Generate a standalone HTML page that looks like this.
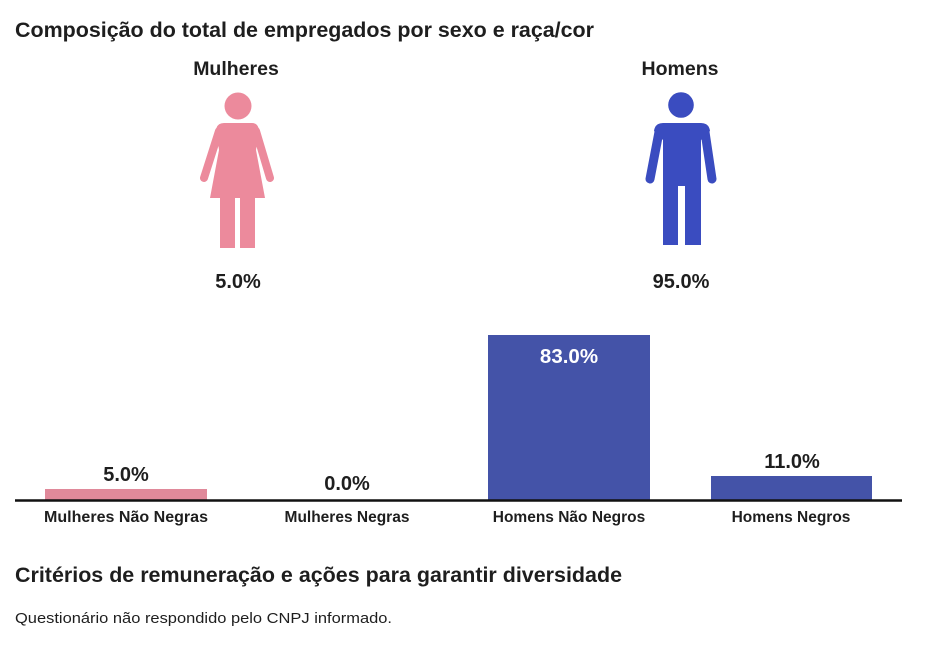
<!DOCTYPE html>
<html>
<head>
<meta charset="utf-8">
<style>
html,body{margin:0;padding:0;background:#fff;}
svg{display:block;}
text{font-family:"Liberation Sans",Arial,sans-serif;fill:#1e1e1e;}
.b{font-weight:bold;}
</style>
</head>
<body>
<svg width="950" height="651" viewBox="0 0 950 651" xmlns="http://www.w3.org/2000/svg">
  <rect width="950" height="651" fill="#fff"/>
  <!-- Title -->
  <text class="b" x="15" y="37" font-size="21" textLength="579" lengthAdjust="spacingAndGlyphs">Composição do total de empregados por sexo e raça/cor</text>

  <!-- Mulheres -->
  <text class="b" x="236" y="75" font-size="19.5" text-anchor="middle">Mulheres</text>
  <g fill="#EC8A9C">
    <circle cx="238" cy="106" r="13.5"/>
    <path d="M224,123 L252,123 Q258,123 259,130 L256,150 L265,198 L210,198 L219,150 L216,130 Q217,123 224,123 Z"/>
    <line x1="219" y1="131" x2="204" y2="178" stroke="#EC8A9C" stroke-width="8" stroke-linecap="round"/>
    <line x1="256" y1="131" x2="270" y2="178" stroke="#EC8A9C" stroke-width="8" stroke-linecap="round"/>
    <rect x="220" y="196" width="15" height="52"/>
    <rect x="240" y="196" width="15" height="52"/>
  </g>
  <text class="b" x="238" y="288" font-size="20" text-anchor="middle">5.0%</text>

  <!-- Homens -->
  <text class="b" x="680" y="75" font-size="19.5" text-anchor="middle">Homens</text>
  <g fill="#3A4CC0">
    <circle cx="681" cy="105" r="12.8"/>
    <path d="M663,123 L701,123 Q709,123 710,131 L701,140 L701,186 L663,186 L663,140 L654,131 Q655,123 663,123 Z"/>
    <line x1="659" y1="132" x2="650" y2="179" stroke="#3A4CC0" stroke-width="9" stroke-linecap="round"/>
    <line x1="705" y1="132" x2="712" y2="179" stroke="#3A4CC0" stroke-width="9" stroke-linecap="round"/>
    <rect x="663" y="180" width="15" height="65"/>
    <rect x="685" y="180" width="16" height="65"/>
  </g>
  <text class="b" x="681" y="288" font-size="20" text-anchor="middle">95.0%</text>

  <!-- Bars -->
  <rect x="45" y="489" width="162" height="11" fill="#E0899A"/>
  <rect x="488" y="335" width="162" height="165" fill="#4453A8"/>
  <rect x="711" y="476" width="161" height="24" fill="#4453A8"/>
  <line x1="15" y1="500.5" x2="902" y2="500.5" stroke="#111" stroke-width="2.6"/>

  <!-- Value labels -->
  <text class="b" x="126" y="481" font-size="20" text-anchor="middle">5.0%</text>
  <text class="b" x="347" y="490" font-size="20" text-anchor="middle">0.0%</text>
  <text class="b" x="569" y="363" font-size="20.5" text-anchor="middle" style="fill:#fff">83.0%</text>
  <text class="b" x="792" y="468" font-size="20" text-anchor="middle">11.0%</text>

  <!-- Category labels -->
  <text class="b" x="126" y="522" font-size="15.5" text-anchor="middle" textLength="164" lengthAdjust="spacingAndGlyphs">Mulheres Não Negras</text>
  <text class="b" x="347" y="522" font-size="15.5" text-anchor="middle">Mulheres Negras</text>
  <text class="b" x="569" y="522" font-size="15.5" text-anchor="middle">Homens Não Negros</text>
  <text class="b" x="791" y="522" font-size="15.5" text-anchor="middle">Homens Negros</text>

  <!-- Section 2 -->
  <text class="b" x="15" y="582" font-size="21" textLength="607" lengthAdjust="spacingAndGlyphs">Critérios de remuneração e ações para garantir diversidade</text>
  <text x="15" y="623" font-size="15" textLength="377" lengthAdjust="spacingAndGlyphs">Questionário não respondido pelo CNPJ informado.</text>
</svg>
</body>
</html>
